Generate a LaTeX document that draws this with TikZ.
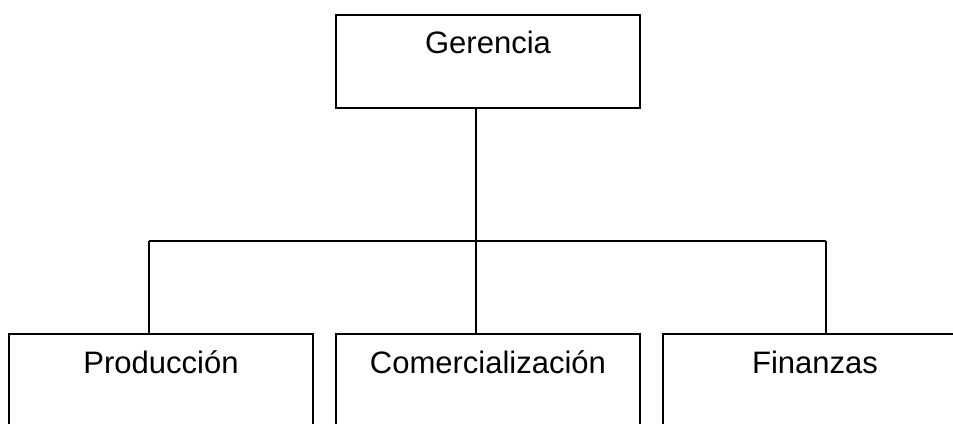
\documentclass[tikz,border=0pt]{standalone}
\usepackage{fontspec}
\setmainfont{Liberation Sans}
\usetikzlibrary{positioning,calc}
\tikzset{
  unit/.style={draw,rectangle,inner sep=0pt,minimum width=304pt,text height=40pt,text depth=100pt,anchor=north,font=\fontsize{31}{37}\selectfont},
  topunit/.style={unit,text height=39pt,text depth=54pt}
}

\begin{document}
\begin{tikzpicture}[x=1pt,y=-1pt,line width=1.6pt]

\clip (0,0) rectangle (953,423);

\node [topunit] (ger) at (488,14) {Gerencia};
\node [unit] (prod) at (161,333) {Producción};
\node [unit] (com) at (488,333) {Comercialización};
\node [unit] (fin) at (815,333) {Finanzas};

\coordinate (bus) at (476,241);
\coordinate (busl) at (149,241);
\coordinate (busr) at (826,241);

\begin{scope}[line width=1.6pt]
\draw[-,color=black] (ger.south -| bus) to (bus);
\draw[-,color=black] (busl) to (busr);
\draw[-,color=black] (busl) to (busl |- prod.north);
\draw[-,color=black] (bus) to (bus |- com.north);
\draw[-,color=black] (busr) to (busr |- fin.north);
\end{scope}

\end{tikzpicture}
\end{document}
